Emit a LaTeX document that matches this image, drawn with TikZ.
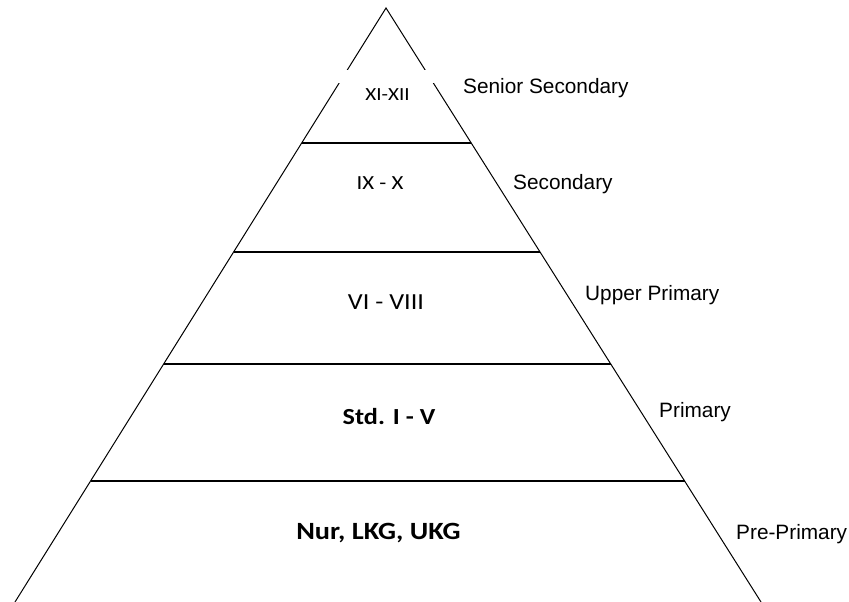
\documentclass[tikz,border=0pt]{standalone}
\usepackage{fontspec}
\usetikzlibrary{calc}
\setmainfont{Liberation Sans}
\newfontfamily\innerfont[FakeStretch=1.14]{Carlito}
\begin{document}
\begin{tikzpicture}[x=1pt,y=-1pt,
  edge/.style={draw=black,line width=1pt},
  tier/.style={draw=black,line width=1.4pt},
  side/.style={anchor=base west,inner sep=0pt,font=\fontsize{20.8}{24}\selectfont},
  grade/.style={anchor=base,inner sep=0pt}]
\useasboundingbox (0,0) rectangle (849,602);
\coordinate (apex) at (386,8);
\coordinate (bl) at (15,602);
\coordinate (br) at (761,602);
\draw[edge] (bl) -- (apex) -- (br);
% tier lines
\foreach \y/\n in {143/a,252/b,364/c,481/d}{
  \draw[tier] ($(apex)!{(\y-8)/594}!(bl)$) coordinate (l\n) -- ($(apex)!{(\y-8)/594}!(br)$) coordinate (r\n);
}
\fill[white] (330,70.5) rectangle (445,83);
\node[grade,font=\innerfont\fontsize{18.5}{20}\selectfont] (g1) at (387.5,100) {XI-XII};
\node[grade,font=\innerfont\fontsize{20}{22}\selectfont] (g2) at (380,189.5) {IX - X};
\node[grade,font=\innerfont\fontsize{23}{25}\selectfont] (g3) at (386,309.4) {VI - VIII};
\node[grade,font=\innerfont\bfseries\fontsize{23}{25}\selectfont] (g4) at (389,424.4) {Std. I - V};
\node[grade,font=\innerfont\bfseries\fontsize{24.8}{27}\selectfont] (g5) at (378.5,539) {Nur, LKG, UKG};
\node[side] (s1) at (463,93.5) {Senior Secondary};
\node[side] (s2) at (513,189.5) {Secondary};
\node[side] (s3) at (585,300.5) {Upper Primary};
\node[side] (s4) at (659,417.5) {Primary};
\node[side] (s5) at (736,539.5) {Pre-Primary};
\end{tikzpicture}
\end{document}
